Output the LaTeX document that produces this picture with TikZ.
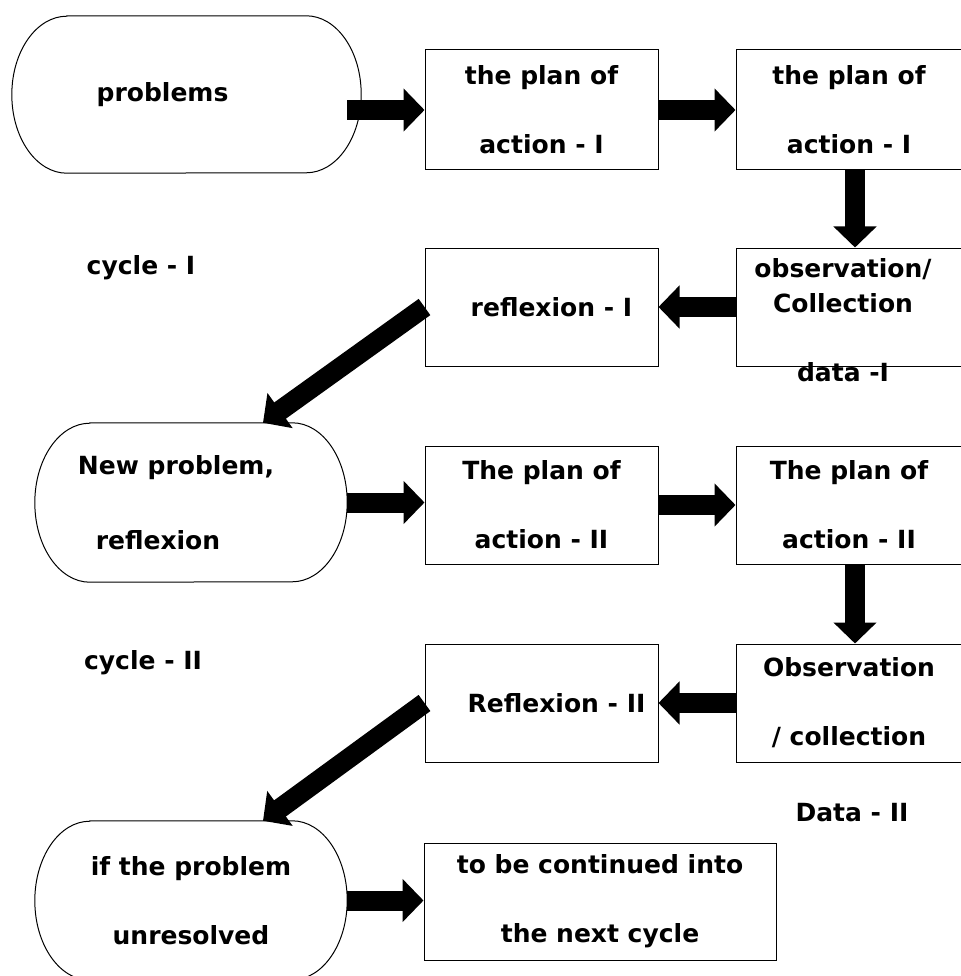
\documentclass[tikz,border=0pt]{standalone}
\usepackage{fontspec}
\setmainfont{DejaVu Sans}
\usetikzlibrary{positioning,arrows.meta,calc}

% outline of a stadium node: flat top and bottom, half ellipses at the ends
\newcommand{\stadiumoutline}[3]{%
  \draw[line width=1pt] ([xshift=#2]#1.north west) -- ([xshift=-#2]#1.north east)
    arc[start angle=90, end angle=-90, x radius=#2, y radius=#3]
    -- ([xshift=#2]#1.south west)
    arc[start angle=270, end angle=90, x radius=#2, y radius=#3] -- cycle;}

\begin{document}
\begin{tikzpicture}[x=1pt, y=1pt, on grid,
    font=\fontsize{25}{34.5}\selectfont\bfseries,
    box/.style={draw, line width=1pt, minimum width=233pt, minimum height=118pt,
      inner sep=0pt, align=center},
    stadium/.style={minimum width=312pt, minimum height=159pt, inner sep=0pt, align=center},
    bigarrow/.style={line width=20pt, -{Triangle[length=21pt,width=42pt]}},
    note/.style={inner sep=0pt, align=center}]
    \useasboundingbox (0,-976) rectangle (960,0);

    % cycle I
    \node[stadium, minimum width=349pt, minimum height=157pt] (prob) at (186.5,-94.5)
      {problems\rule{48pt}{0pt}};
    \node[box, minimum height=120pt] (planA) at (541.5,-110) {the plan of\\[34.5pt]action - I};
    \node[box, minimum width=226pt, minimum height=120pt] (planB) [right=307.5pt of planA]
      {the plan of\\[34.5pt]action - I};
    \node[box, minimum width=226pt] (obsA) [below=197pt of planB] {};
    \node[note] (obsAtext) at ([xshift=-6pt,yshift=-13pt]obsA.center)
      {observation/\\Collection\\[34.5pt]data -I};
    \node[box] (reflA) [left=307.5pt of obsA] {\rule{20pt}{0pt}reflexion - I};
    \node[note] (cycA) at (141,-268) {cycle - I};

    % cycle II
    \node[stadium] (newprob) at (191,-502.5)
      {New problem,\rule{30pt}{0pt}\\[40.5pt]reflexion\rule{66pt}{0pt}};
    \node[box] (planC) [below=198pt of reflA] {The plan of\\[34.5pt]action - II};
    \node[box, minimum width=226pt] (planD) [right=307.5pt of planC]
      {The plan of\\[34.5pt]action - II};
    \node[box, minimum width=226pt] (obsB) [below=198pt of planD]
      {Observation\\[34.5pt]/ collection};
    \node[box] (reflB) [left=307.5pt of obsB] {\rule{30pt}{0pt}Reflexion - II};
    \node[note] (cycB) at (143,-663) {cycle - II};
    \node[note] (dataB) at (852,-813) {Data - II};

    % end
    \node[stadium] (unres) at (191,-900.5) {if the problem\\[34.5pt]unresolved};
    \node[box, minimum width=352pt, minimum height=117pt] (next)
      [below right=198.5pt and 58.5pt of reflB] {to be continued into\\[34.5pt]the next cycle};

    \stadiumoutline{prob}{55pt}{78.5pt}
    \stadiumoutline{newprob}{55pt}{79.5pt}
    \stadiumoutline{unres}{55pt}{79.5pt}

    \draw[bigarrow] ($(prob.east |- planA.west)+(-14,0)$) -- (planA.west);
    \draw[bigarrow] (planA.east) -- (planB.west);
    \draw[bigarrow] ([xshift=6pt]planB.south) -- ([xshift=6pt]obsA.north);
    \draw[bigarrow] (obsA.west) -- (reflA.east);
    \draw[bigarrow] (reflA.west) -- ([xshift=72pt]newprob.north);
    \draw[bigarrow] (newprob.east) -- (newprob.east -| planC.west);
    \draw[bigarrow] (planC.east) -- (planD.west);
    \draw[bigarrow] ([xshift=6pt]planD.south) -- ([xshift=6pt]obsB.north);
    \draw[bigarrow] (obsB.west) -- (reflB.east);
    \draw[bigarrow] (reflB.west) -- ([xshift=72pt]unres.north);
    \draw[bigarrow] (unres.east) -- (unres.east -| next.west);
\end{tikzpicture}
\end{document}
